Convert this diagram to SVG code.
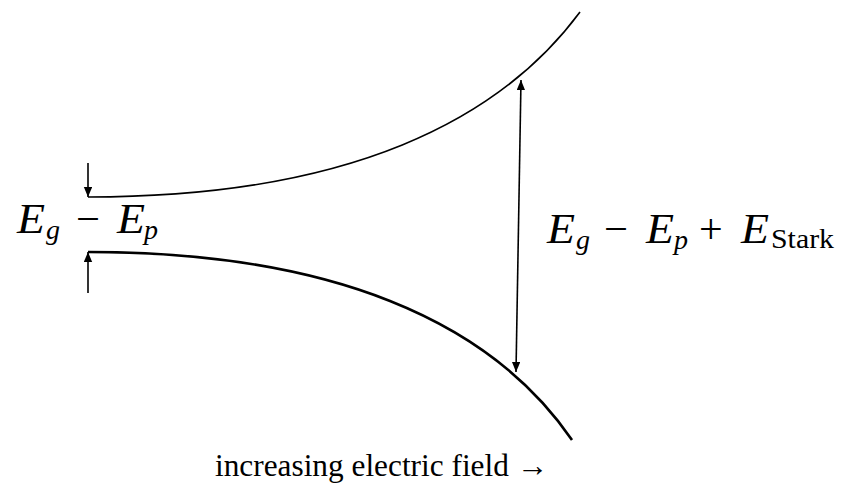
<svg xmlns="http://www.w3.org/2000/svg" width="851" height="491" viewBox="0 0 851 491">
<defs>
<marker id="ah" viewBox="0 0 10 12" refX="12" refY="5" markerWidth="12" markerHeight="10" markerUnits="userSpaceOnUse" orient="auto"><path d="M0,0 L12,5 L0,10 z" fill="#000"/></marker>
<style>
.m{font-family:"Liberation Serif",serif;font-size:42px;fill:#000}
.i{font-style:italic}
.s{font-size:28px}
.t{font-family:"Liberation Serif",serif;font-size:32px;fill:#000}
.a{stroke:#000;stroke-width:1.6;fill:none}
</style>
</defs>
<rect width="851" height="491" fill="#fff"/>
<g id="bands">
<path d="M88,197 C 350,197 500,120 580,12" fill="none" stroke="#000" stroke-width="1.6"/>
<path d="M88,252 C 330,252 490,320 572,440" fill="none" stroke="#000" stroke-width="2.6"/>
</g>
<g id="connectors">
<line class="a" x1="88" y1="163" x2="88" y2="197" marker-end="url(#ah)"/>
<line class="a" x1="88" y1="293" x2="88" y2="252" marker-end="url(#ah)"/>
<line class="a" x1="518.5" y1="226" x2="521" y2="80" marker-end="url(#ah)"/>
<line class="a" x1="518.5" y1="226" x2="516" y2="372" marker-end="url(#ah)"/>
</g>
<g id="label-left">
<text class="m i" x="17" y="233" textLength="28" lengthAdjust="spacingAndGlyphs">E</text>
<text class="m i s" x="46" y="239">g</text>
<text class="m" x="76" y="233" textLength="24" lengthAdjust="spacingAndGlyphs">−</text>
<text class="m i" x="117" y="233" textLength="28" lengthAdjust="spacingAndGlyphs">E</text>
<text class="m i s" x="144" y="239">p</text>
</g>
<g id="label-right">
<text class="m i" x="547" y="243" textLength="28" lengthAdjust="spacingAndGlyphs">E</text>
<text class="m i s" x="576" y="249">g</text>
<text class="m" x="604" y="243" textLength="24" lengthAdjust="spacingAndGlyphs">−</text>
<text class="m i" x="646" y="243" textLength="28" lengthAdjust="spacingAndGlyphs">E</text>
<text class="m i s" x="674" y="249">p</text>
<text class="m" x="699" y="243">+</text>
<text class="m i" x="741" y="243" textLength="28" lengthAdjust="spacingAndGlyphs">E</text>
<text class="m s" x="771" y="248" textLength="63" lengthAdjust="spacingAndGlyphs">Stark</text>
</g>
<g id="label-bottom">
<text class="t" x="215" y="476" textLength="333" lengthAdjust="spacingAndGlyphs">increasing electric field →</text>
</g>
</svg>
